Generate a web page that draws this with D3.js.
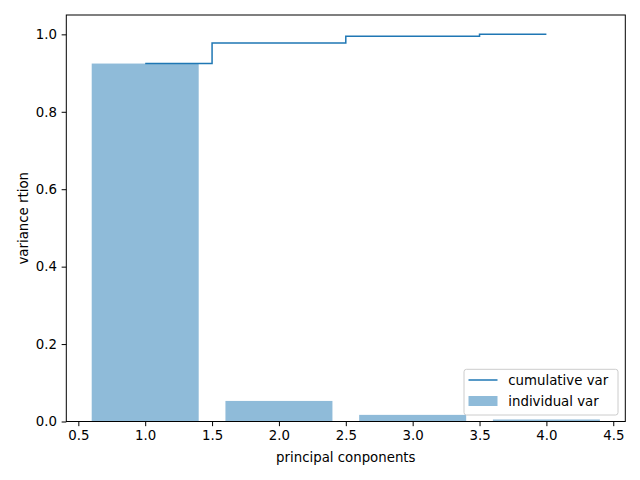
<!DOCTYPE html>
<html><head><meta charset="utf-8">
<script src="https://cdn.jsdelivr.net/npm/d3@7"></script>
<style>body{margin:0;background:#fff}svg{display:block}text{font-family:"DejaVu Sans",sans-serif}</style>
</head><body>
<script>
const components = [1, 2, 3, 4];
const individualVar = [0.9246, 0.0531, 0.0171, 0.0052];
const cumulativeVar = [0.9246, 0.9777, 0.9948, 1.0];
const xTicks = [0.5, 1.0, 1.5, 2.0, 2.5, 3.0, 3.5, 4.0, 4.5];
const yTicks = [0.0, 0.2, 0.4, 0.6, 0.8, 1.0];

const W = 640, H = 480;
const L = 66.3, R = 625.3, T = 15, B = 421.5;
const svg = d3.select("body").append("svg").attr("width", W).attr("height", H);

const x = d3.scaleLinear().domain([0.41, 4.59]).range([L, R]);
const y = d3.scaleLinear().domain([0, 1.05]).range([B, T]);
const bw = 0.8;

svg.append("g").selectAll("rect").data(components).join("rect")
  .attr("x", d => x(d - bw / 2))
  .attr("width", d => x(d + bw / 2) - x(d - bw / 2))
  .attr("y", (d, i) => y(individualVar[i]))
  .attr("height", (d, i) => y(0) - y(individualVar[i]))
  .attr("fill", "#1f77b4").attr("fill-opacity", 0.5);

const line = d3.line().x(d => x(d[0])).y(d => y(d[1])).curve(d3.curveStep);
svg.append("path")
  .datum(components.map((c, i) => [c, cumulativeVar[i]]))
  .attr("d", line).attr("fill", "none").attr("stroke", "#1f77b4").attr("stroke-width", 1.5);

const fmt = d3.format(".1f");
const xa = svg.append("g").attr("transform", `translate(0,${B})`)
  .call(d3.axisBottom(x).tickValues(xTicks).tickFormat(fmt).tickSize(4.67).tickPadding(4.67).tickSizeOuter(0));
const ya = svg.append("g").attr("transform", `translate(${L},0)`)
  .call(d3.axisLeft(y).tickValues(yTicks).tickFormat(fmt).tickSize(4.67).tickPadding(4.67).tickSizeOuter(0));
[xa, ya].forEach(a => {
  a.select(".domain").remove();
  a.selectAll("text").attr("font-size", "13.33px").attr("fill", "#000").attr("font-family", "DejaVu Sans");
  a.selectAll("line").attr("stroke", "#000").attr("stroke-width", 1);
});

svg.append("rect").attr("x", L).attr("y", T).attr("width", R - L).attr("height", B - T)
  .attr("fill", "none").attr("stroke", "#000").attr("stroke-width", 1);

svg.append("text").attr("x", (L + R) / 2).attr("y", 462).attr("text-anchor", "middle")
  .attr("font-size", "13.33px").text("principal conponents");
svg.append("text").attr("transform", `translate(27.5,${(T + B) / 2}) rotate(-90)`).attr("text-anchor", "middle")
  .attr("font-size", "13.33px").text("variance rtion");

// legend
const lg = svg.append("g");
lg.append("rect").attr("x", 464).attr("y", 369.3).attr("width", 154).attr("height", 45.7).attr("rx", 2.5)
  .attr("fill", "#fff").attr("fill-opacity", 0.8).attr("stroke", "#ccc").attr("stroke-width", 1);
lg.append("line").attr("x1", 468.5).attr("x2", 497.5).attr("y1", 380).attr("y2", 380)
  .attr("stroke", "#1f77b4").attr("stroke-width", 1.5);
lg.append("rect").attr("x", 468.5).attr("y", 396).attr("width", 29).attr("height", 10)
  .attr("fill", "#1f77b4").attr("fill-opacity", 0.5);
lg.append("text").attr("x", 508.3).attr("y", 385).attr("font-size", "13.33px").text("cumulative var");
lg.append("text").attr("x", 508.3).attr("y", 406).attr("font-size", "13.33px").text("individual var");
</script>
</body></html>
